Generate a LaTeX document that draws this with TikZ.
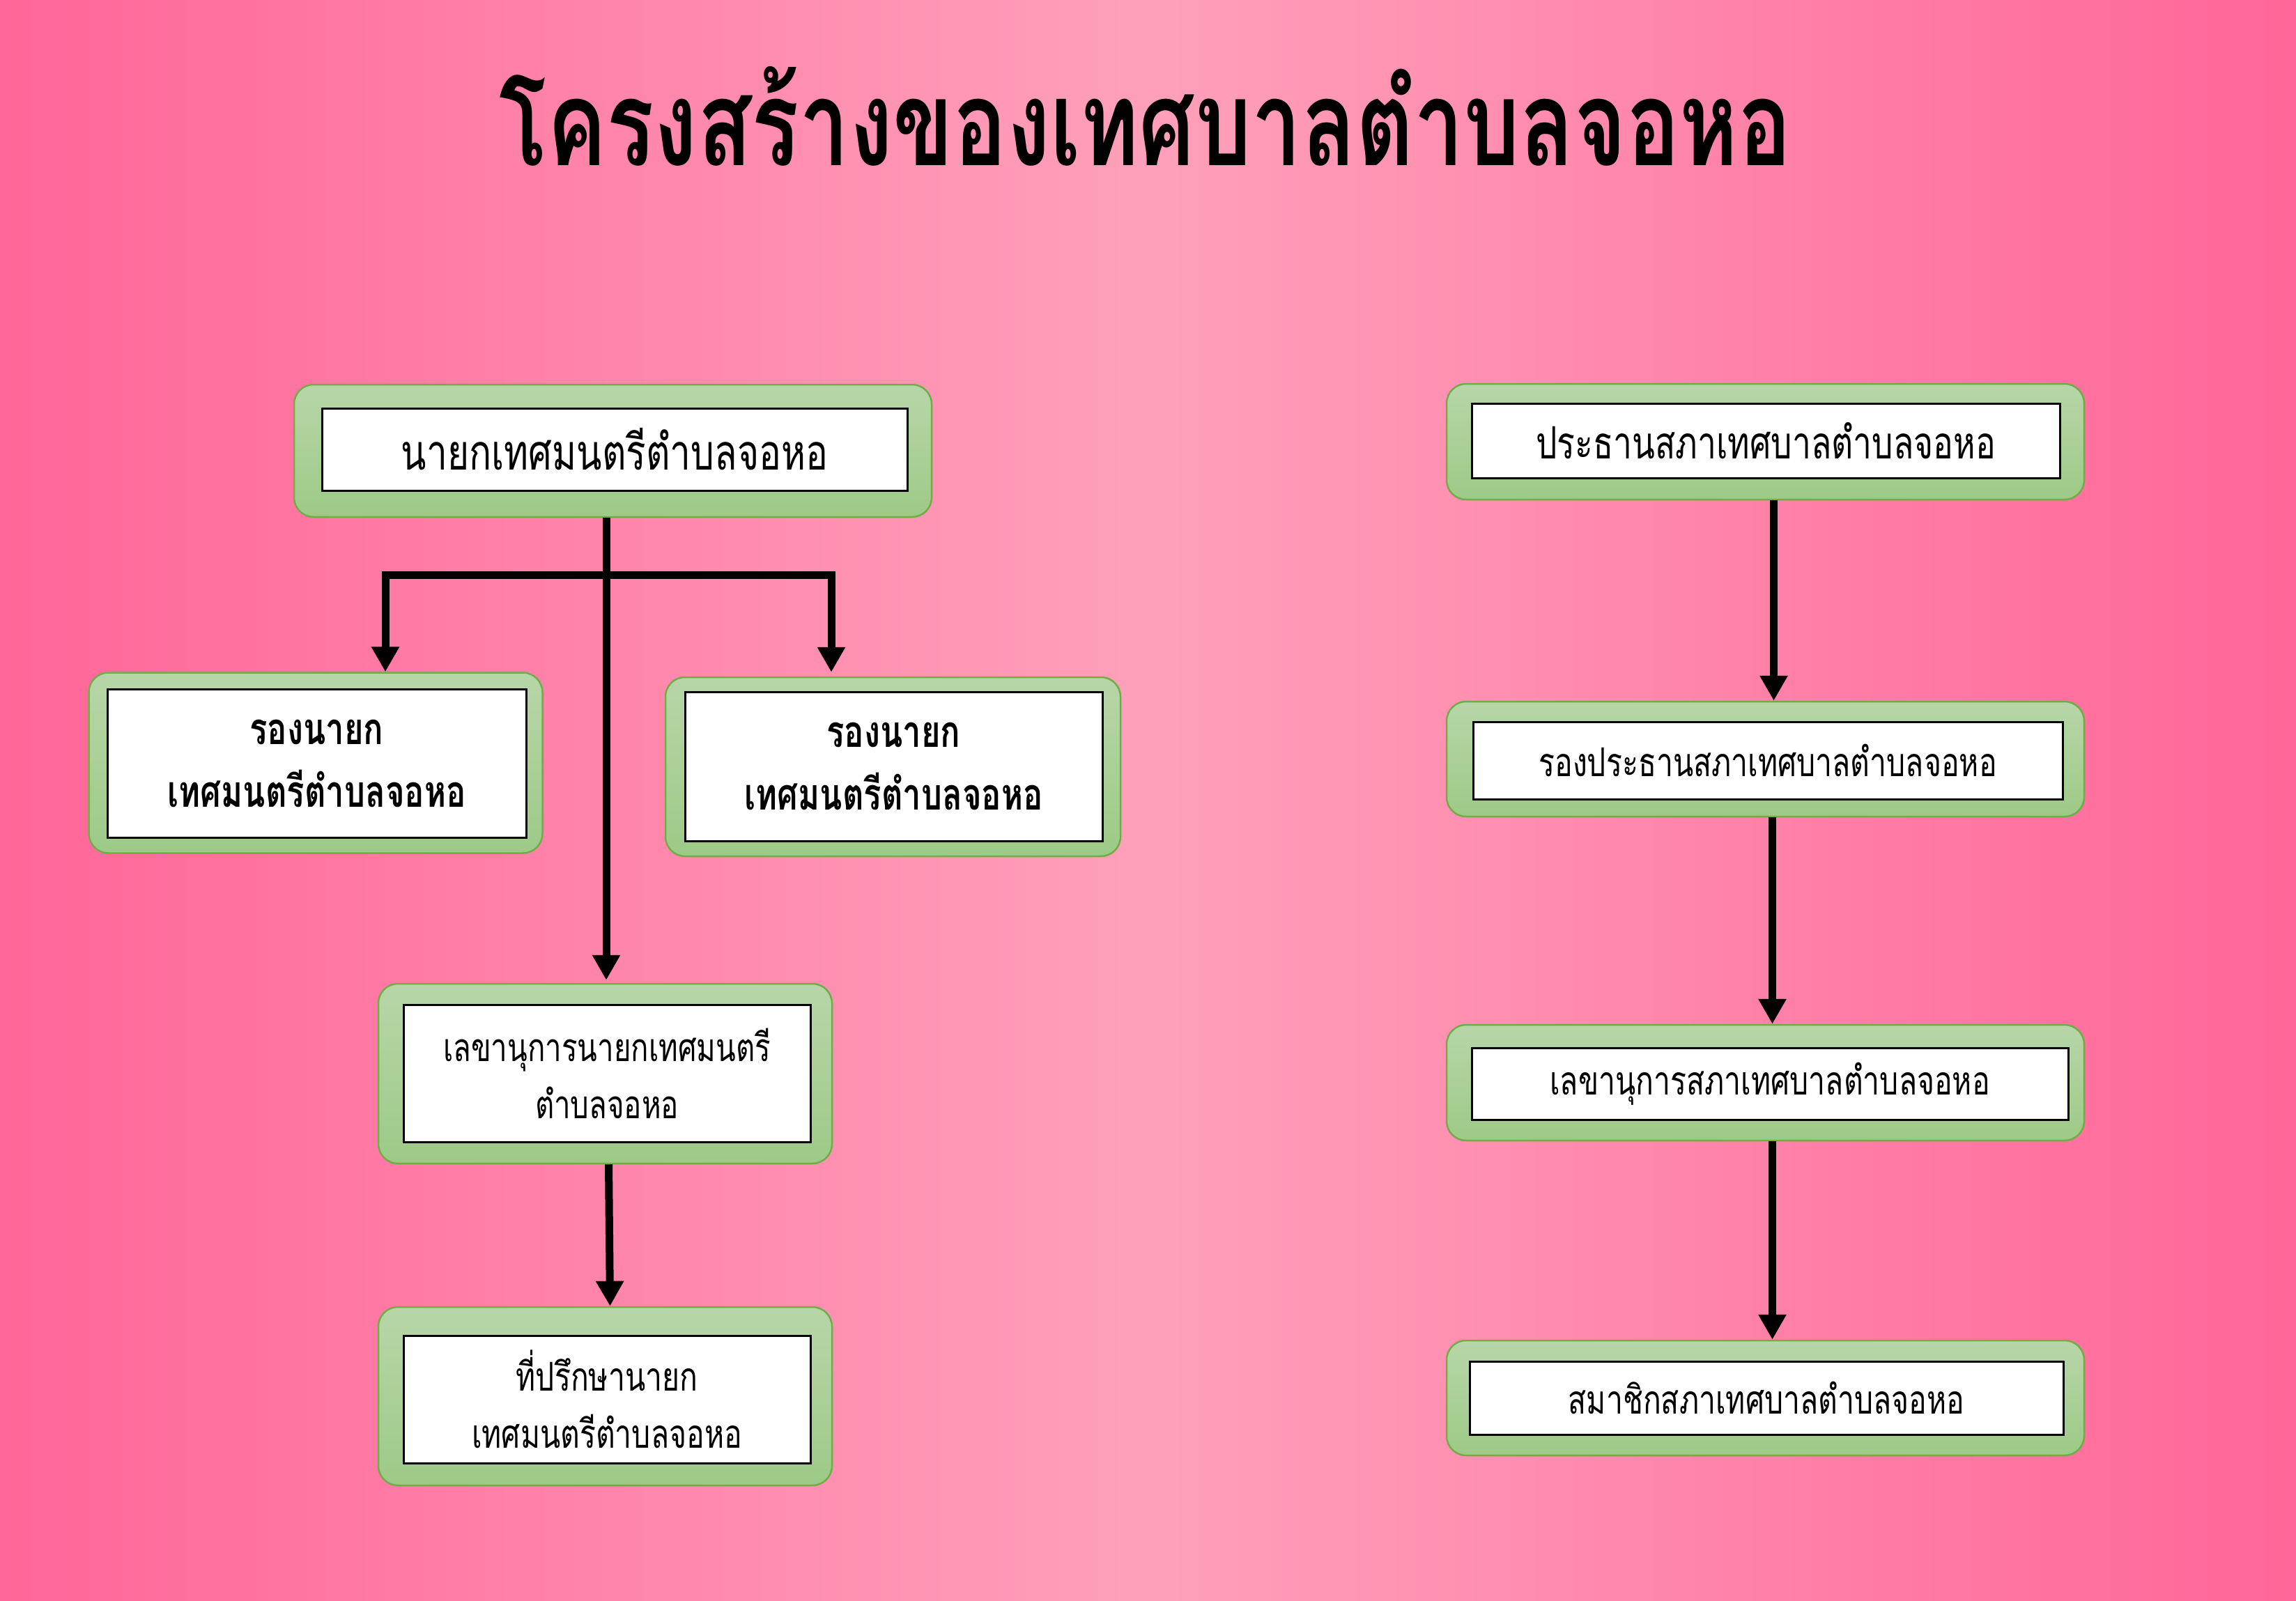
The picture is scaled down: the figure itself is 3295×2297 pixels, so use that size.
\documentclass[tikz,border=0pt]{standalone}
\usepackage{fontspec}
\newfontfamily\thaifont[Script=Thai,FakeStretch=0.75]{Loma}
\usetikzlibrary{arrows.meta}
\definecolor{pinkD}{RGB}{255,102,153}
\definecolor{pinkL}{RGB}{255,160,186}
\definecolor{greenT}{RGB}{183,214,168}
\definecolor{greenB}{RGB}{157,202,135}
\definecolor{greenE}{RGB}{112,173,71}
\tikzstyle{arrow} = [-{Triangle[width=38pt,length=36pt]}, line width=11pt]
\tikzstyle{twoarrow} = [{Triangle[width=38pt,length=36pt]}-{Triangle[width=38pt,length=36pt]}, line width=11pt]
\tikzstyle{frame} = [rectangle, rounded corners=28pt, draw=greenE, line width=2.5pt, top color=greenT, bottom color=greenB, inner sep=0pt]
\tikzstyle{tbox} = [rectangle, draw=black, line width=3pt, fill=white, inner sep=0pt, align=center, font=\thaifont\fontsize{57}{82}\selectfont]

\begin{document}
\begin{tikzpicture}[x=1pt,y=-1pt]
        \useasboundingbox (0,0) rectangle (3295,2297);
        \fill[left color=pinkD, right color=pinkD, middle color=pinkL] (0,0) rectangle (3295,2297);

        \node[anchor=base, font=\thaifont\bfseries\fontsize{170}{170}\selectfont] (title) at (1644,237) {โครงสร้างของเทศบาลตำบลจอหอ};

        % left side
        \node[frame, minimum width=915pt, minimum height=190pt] (a1f) at (879.5,647) {};
        \node[tbox, minimum width=840pt, minimum height=118pt, font=\thaifont\fontsize{71}{82}\selectfont] (a1) at (882,645) {นายกเทศมนตรีตำบลจอหอ};
        \node[frame, minimum width=651pt, minimum height=259pt] (a2f) at (453,1095) {};
        \node[tbox, minimum width=601pt, minimum height=213pt, font=\thaifont\bfseries\fontsize{63}{90}\selectfont] (a2) at (454.5,1095.5) {รองนายก\\เทศมนตรีตำบลจอหอ};
        \node[frame, minimum width=653pt, minimum height=257pt] (a3f) at (1281.5,1100.5) {};
        \node[tbox, minimum width=599pt, minimum height=214pt, font=\thaifont\bfseries\fontsize{63}{90}\selectfont] (a3) at (1282.5,1100) {รองนายก\\เทศมนตรีตำบลจอหอ};
        \node[frame, minimum width=651pt, minimum height=258pt] (a4f) at (868.5,1541) {};
        \node[tbox, minimum width=584pt, minimum height=197pt, font=\thaifont\fontsize{56}{82}\selectfont] (a4) at (871,1540.5) {เลขานุการนายกเทศมนตรี\\ตำบลจอหอ};
        \node[frame, minimum width=651pt, minimum height=256pt] (a5f) at (868.5,2004) {};
        \node[tbox, minimum width=584pt, minimum height=183pt] (a5) at (871,2008.5) {ที่ปรึกษานายก\\เทศมนตรีตำบลจอหอ};

        % right side
        \node[frame, minimum width=915pt, minimum height=166pt] (b1f) at (2533.5,634) {};
        \node[tbox, minimum width=844pt, minimum height=107pt, font=\thaifont\fontsize{64}{82}\selectfont] (b1) at (2534,632.5) {ประธานสภาเทศบาลตำบลจอหอ};
        \node[frame, minimum width=915pt, minimum height=165pt] (b2f) at (2533.5,1089.5) {};
        \node[tbox, minimum width=846pt, minimum height=111pt] (b2) at (2537,1091.5) {รองประธานสภาเทศบาลตำบลจอหอ};
        \node[frame, minimum width=915pt, minimum height=166pt] (b3f) at (2533.5,1554) {};
        \node[tbox, minimum width=856pt, minimum height=103pt] (b3) at (2540,1555.5) {เลขานุการสภาเทศบาลตำบลจอหอ};
        \node[frame, minimum width=915pt, minimum height=165pt] (b4f) at (2533.5,2006.5) {};
        \node[tbox, minimum width=852pt, minimum height=105pt] (b4) at (2535,2006.5) {สมาชิกสภาเทศบาลตำบลจอหอ};

        \coordinate (bar) at (870,825);
        \coordinate (barL) at (553,825);
        \coordinate (barR) at (1193,825);

        \draw[twoarrow] (barL |- a2f.north) -- (barL) -- (barR) -- ([yshift=6pt]barR |- a3f.north);
        \draw[arrow] (bar |- a1f.south) -- ([yshift=4pt]bar |- a4f.north);
        \draw[arrow] ([xshift=5pt]a4f.south) -- ([xshift=7pt]a5f.north);

        \draw[arrow] ([xshift=12pt]b1f.south) -- ([xshift=12pt]b2f.north);
        \draw[arrow] ([xshift=10pt]b2f.south) -- ([xshift=10pt]b3f.north);
        \draw[arrow] ([xshift=10pt]b3f.south) -- ([xshift=10pt]b4f.north);
\end{tikzpicture}
\end{document}
